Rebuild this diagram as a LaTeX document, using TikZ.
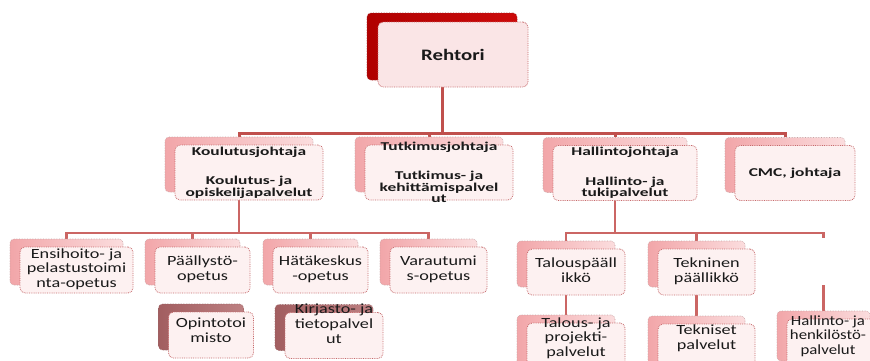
\documentclass[tikz,border=0pt]{standalone}
\usepackage{fontspec}
\usepackage{graphicx}
\setmainfont{Carlito}
\newfontfamily\fbig{Carlito}[FakeStretch=1.3]
\newfontfamily\fmid{Carlito}[FakeStretch=1.45]
\usetikzlibrary{backgrounds}
\definecolor{connc}{HTML}{C0504D}
\definecolor{connlight}{HTML}{CB6664}
\definecolor{backline}{HTML}{C9A3A4}
\definecolor{pinkdeep}{HTML}{F2A6A9}
\definecolor{pinklight}{HTML}{FBDDDE}
\definecolor{reddeep}{HTML}{B00000}
\definecolor{redlight}{HTML}{CC0A0A}
\definecolor{mauvedeep}{HTML}{A25E60}
\definecolor{mauvelight}{HTML}{BD8082}
\definecolor{frontline}{HTML}{C66A6C}
\definecolor{frontfill}{HTML}{FDF1F1}
\definecolor{topfill}{HTML}{FAE5E6}
\definecolor{textc}{HTML}{1A1A1A}
\newcommand\sx[1]{\scalebox{1.3}[1]{\begin{tabular}{@{}c@{}}#1\end{tabular}}}
\newcommand\sxn[1]{\scalebox{1.2}[1]{\begin{tabular}{@{}c@{}}#1\end{tabular}}}
\tikzset{
  backbox/.style={rectangle, rounded corners=4pt, draw=backline, line width=0.6pt,
    densely dotted, left color=pinkdeep, right color=pinklight, inner sep=0pt},
  redback/.style={left color=reddeep, right color=redlight, draw=reddeep!70!gray},
  mauveback/.style={left color=mauvedeep, right color=mauvelight, draw=mauvedeep!80!gray},
  frontbox/.style={rectangle, rounded corners=5pt, draw=frontline, line width=0.8pt,
    densely dotted, fill=frontfill, inner sep=0pt},
  topfront/.style={fill=topfill},
  txt/.style={align=center, text=textc, inner sep=0pt},
  lvone/.style={font=\fbig\bfseries\fontsize{16}{18}\selectfont},
  lvtwo/.style={font=\fmid\bfseries\fontsize{12}{11.5}\selectfont},
  lvthree/.style={font=\fontsize{14}{14.6}\selectfont},
  bus/.style={draw=connc, line width=3pt},
  subbus/.style={draw=connlight, line width=2.3pt},
}
% #1 name, #2 back style, #3 cx, #4 cy, #5 W, #6 H, #7 text style, #8 text lift, #9 text
\newcommand\pairbox[9]{%
  \node[backbox,#2,minimum width=#5pt,minimum height=#6pt] (#1b) at (#3,#4) {};
  \node[frontbox,minimum width=#5pt,minimum height=#6pt] (#1f) at ([xshift=10pt,yshift=-8pt]#1b.center) {};
  \node[txt,#7] (#1t) at ([yshift=#8pt]#1f.center) {#9};}
\begin{document}
\begin{tikzpicture}[x=1pt,y=-1pt]
\clip (0,0) rectangle (870,360);
% level 1
\node[backbox,redback,minimum width=150pt,minimum height=67pt] (rehb) at (442,46.5) {};
\node[frontbox,topfront,minimum width=150pt,minimum height=65pt] (rehf) at (453,54.5) {};
\node[txt,lvone] (reht) at (rehf.center) {Rehtori};
% level 2
\pairbox{kou}{}{239}{164.5}{148}{55}{lvtwo}{0}{Koulutusjohtaja\\[18pt]Koulutus- ja\\opiskelijapalvelut}
\pairbox{tut}{}{429}{164.5}{148}{55}{lvtwo}{0}{Tutkimusjohtaja\\[18pt]Tutkimus- ja\\kehittämispalvel\\ut}
\pairbox{hal}{}{615}{165}{144}{55}{lvtwo}{0}{Hallintojohtaja\\[18pt]Hallinto- ja\\tukipalvelut}
\pairbox{cmc}{}{785}{165}{120}{55}{lvtwo}{0}{CMC, johtaja}
% level 3
\pairbox{ens}{}{66.5}{262}{113}{46}{lvthree}{0}{\sx{Ensihoito- ja\\pelastustoimi\\nta-opetus}}
\pairbox{paa}{}{192.5}{262}{95}{46}{lvthree}{0}{\sx{Päällystö-\\opetus}}
\pairbox{hat}{}{310.5}{262}{95}{46}{lvthree}{0}{\sx{Hätäkeskus\\-opetus}}
\pairbox{var}{}{428.5}{262}{97}{46}{lvthree}{0}{\sx{Varautumi\\s-opetus}}
\pairbox{tal}{}{566}{264}{98}{46}{lvthree}{0}{\sx{Talouspääll\\ikkö}}
\pairbox{tek}{}{696.5}{264}{97}{46}{lvthree}{0}{\sx{Tekninen\\päällikkö}}
% level 4
\pairbox{opi}{mauveback}{201}{327}{85}{46}{lvthree}{3}{\sx{Opintotoi\\misto}}
\pairbox{kir}{mauveback}{324}{327.5}{98}{46}{lvthree}{10}{\sx{Kirjasto- ja\\tietopalvel\\ut}}
\pairbox{tpr}{}{566}{340}{98}{50}{lvthree}{9}{\sx{Talous- ja\\projekti-\\palvelut}}
\pairbox{tks}{}{696.5}{341}{97}{50}{lvthree}{10}{\sx{Tekniset\\palvelut}}
\node[backbox,minimum width=93pt,minimum height=50pt] (hhpb) at (823.5,336) {};
\node[frontbox,minimum width=93pt,minimum height=50pt] (hhpf) at (833.5,344) {};
\node[txt,lvthree] (hhpt) at (828,337) {\sxn{Hallinto- ja\\henkilöstö-\\palvelut}};
% connectors
\coordinate (busa) at (0,133);
\coordinate (busb) at (0,233);
\coordinate (hhstub) at (823.5,238);
\coordinate (hhup) at (823.5,285);
\begin{pgfonlayer}{background}
\fill[white] (0,0) rectangle (870,360);
\draw[bus] (rehb.south) -- (rehb.south |- busa);
\draw[bus] (koub.north) -- (koub.north |- busa) -- (cmcb.north |- busa) -- (cmcb.north);
\draw[bus] (tutb.north) -- (tutb.north |- busa);
\draw[bus] (halb.north) -- (halb.north |- busa);
\draw[subbus] (koub.south) -- (koub.south |- busb);
\draw[subbus] (ensb.north) -- (ensb.north |- busb) -- (varb.north |- busb) -- (varb.north);
\draw[subbus] (paab.north) -- (paab.north |- busb);
\draw[subbus] (hatb.north) -- (hatb.north |- busb);
\draw[subbus] (halb.south) -- (halb.south |- busb);
\draw[subbus] (talb.north) -- (talb.north |- busb) -- (hhstub |- busb) -- (hhstub);
\draw[subbus] (tekb.north) -- (tekb.north |- busb);
\draw[subbus] (hhup) -- (hhpb.north);
\draw[subbus] (talb.south) -- (tprb.north);
\draw[subbus] (tekb.south) -- (tksb.north);
\end{pgfonlayer}
\end{tikzpicture}
\end{document}
